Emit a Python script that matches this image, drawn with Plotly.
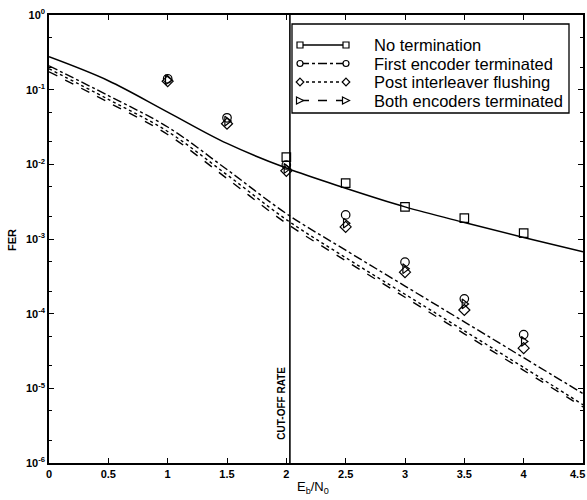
import numpy as np
import plotly.graph_objects as go

# Curve abscissae (Eb/N0, dB)
x_curve = [0, 0.5, 1, 1.5, 2, 2.5, 3, 3.5, 4, 4.5]
# Bound curves, log10(FER)
log_no_term = [-0.56, -0.88, -1.30, -1.72, -2.05, -2.32, -2.57, -2.78, -2.98, -3.17]
log_first_enc = [-0.68, -1.08, -1.50, -2.07, -2.66, -3.15, -3.63, -4.11, -4.59, -5.07]
log_post_int = [-0.72, -1.13, -1.56, -2.14, -2.74, -3.25, -3.74, -4.23, -4.72, -5.22]
log_both_enc = [-0.76, -1.17, -1.60, -2.19, -2.79, -3.29, -3.78, -4.27, -4.76, -5.25]

# Simulation points
x_sim_sq = [2, 2.5, 3, 3.5, 4]
fer_sim_no_term = [0.0125, 0.0056, 0.0027, 0.0019, 0.0012]
x_sim = [1, 1.5, 2, 2.5, 3, 3.5, 4]
fer_sim_first = [0.14, 0.042, 0.0098, 0.0021, 0.00049, 0.000158, 0.0000525]
fer_sim_post = [0.13, 0.035, 0.0082, 0.00145, 0.00036, 0.000112, 0.0000345]
fer_sim_both = [0.135, 0.038, 0.0088, 0.00163, 0.0004, 0.000135, 0.0000425]

cutoff_x = 2.03
y_range_log = [-6, 0]
x_ticks = [0, 0.5, 1, 1.5, 2, 2.5, 3, 3.5, 4, 4.5]

names = ["No termination", "First encoder terminated",
         "Post interleaver flushing", "Both encoders terminated"]
dashes = ["solid", "dashdot", "dot", "dash"]
symbols = ["square-open", "circle-open", "diamond-open", "triangle-right-open"]
curves = [log_no_term, log_first_enc, log_post_int, log_both_enc]
sims = [(x_sim_sq, fer_sim_no_term), (x_sim, fer_sim_first),
        (x_sim, fer_sim_post), (x_sim, fer_sim_both)]

# Plot-area geometry (pixels) used to place the hand-drawn legend
W, H = 587, 500
ML, MR, MT, MB = 49, 4, 15, 37
PW, PH = W - ML - MR, H - MT - MB


def px(x):
    return (x - ML) / PW


def py(y):
    return (H - MB - y) / PH


fig = go.Figure()
for name, dash, sym, cv, (sx, sy) in zip(names, dashes, symbols, curves, sims):
    fig.add_trace(go.Scatter(
        x=x_curve, y=[10 ** v for v in cv], mode="lines", name=name,
        line=dict(color="black", width=1.5 if dash == "solid" else 1.4, dash=dash, shape="spline"),
        showlegend=False, hoverinfo="skip"))
    fig.add_trace(go.Scatter(
        x=sx, y=sy, mode="markers", name=name,
        marker=dict(symbol=sym, size=8.5, color="black", line=dict(width=1.2)),
        showlegend=False))

# Cut-off rate line
fig.add_trace(go.Scatter(
    x=[cutoff_x, cutoff_x], y=[10 ** y_range_log[0], 10 ** y_range_log[1]],
    mode="lines", line=dict(color="black", width=1.6), showlegend=False, hoverinfo="skip"))

fig.add_annotation(x=cutoff_x, xref="x", xanchor="right", xshift=-1,
                   y=-5.2, yref="y", yanchor="middle",
                   text="CUT-OFF RATE", textangle=-90, showarrow=False,
                   font=dict(family="Liberation Sans", size=10, color="black", weight="bold"))

# ---- legend (drawn as a boxed key, MATLAB style) ----
shapes = []
shapes.append(dict(type="rect", xref="paper", yref="paper",
                   x0=px(292), x1=px(569), y0=py(113), y1=py(24),
                   line=dict(color="black", width=1.3), fillcolor="white", layer="above"))
row_y = [45, 63.5, 82, 100.5]
xa, xb = 300, 346
ms = 3.0


def marker_path(kind, cx, cy):
    if kind == "square-open":
        return "M%f,%f L%f,%f L%f,%f L%f,%f Z" % (
            px(cx - ms), py(cy - ms), px(cx + ms), py(cy - ms),
            px(cx + ms), py(cy + ms), px(cx - ms), py(cy + ms))
    if kind == "diamond-open":
        r = ms + 0.8
        return "M%f,%f L%f,%f L%f,%f L%f,%f Z" % (
            px(cx), py(cy - r), px(cx + r), py(cy), px(cx), py(cy + r), px(cx - r), py(cy))
    if kind == "triangle-right-open":
        r = ms + 0.5
        return "M%f,%f L%f,%f L%f,%f Z" % (
            px(cx - r), py(cy - r), px(cx + r), py(cy), px(cx - r), py(cy + r))
    return None


for name, dash, sym, ry in zip(names, dashes, symbols, row_y):
    shapes.append(dict(type="line", xref="paper", yref="paper",
                       x0=px(xa), x1=px(xb), y0=py(ry), y1=py(ry),
                       line=dict(color="black", width=1.3, dash=dash), layer="above"))
    for cx in (xa, xb):
        if sym == "circle-open":
            shapes.append(dict(type="circle", xref="paper", yref="paper",
                               x0=px(cx - ms), x1=px(cx + ms), y0=py(ry + ms), y1=py(ry - ms),
                               line=dict(color="black", width=1.2), fillcolor="white", layer="above"))
        else:
            shapes.append(dict(type="path", xref="paper", yref="paper",
                               path=marker_path(sym, cx, ry),
                               line=dict(color="black", width=1.2), fillcolor="white", layer="above"))
    fig.add_annotation(x=px(372), y=py(ry), xref="paper", yref="paper",
                       xanchor="left", yanchor="middle", text=name, showarrow=False,
                       font=dict(family="Liberation Sans", size=16.5, color="black"))

fig.update_layout(shapes=shapes)

tick_font = dict(family="Liberation Sans", size=11, color="black", weight="bold")

fig.update_xaxes(
    range=[0, 4.5], tickvals=x_ticks, ticktext=[("%g" % v) for v in x_ticks],
    ticks="inside", ticklen=5, tickcolor="black", showline=True, linecolor="black",
    linewidth=1.5, mirror="ticks", showgrid=False, zeroline=False, tickfont=tick_font,
    automargin=False)

# last x tick label sits at the right page edge (plotly drops it), so add it as text
fig.add_annotation(x=1, xref="paper", xanchor="right", xshift=4,
                   y=0, yref="paper", yanchor="top", yshift=-3,
                   text="%g" % x_ticks[-1], showarrow=False, font=tick_font)

yvals = [10 ** k for k in range(-6, 1)]
ytext = ["10<sup>%d</sup>" % k for k in range(-6, 1)]
fig.update_yaxes(
    type="log", range=y_range_log, tickvals=yvals, ticktext=ytext,
    ticks="inside", ticklen=5, tickcolor="black", showline=True, linecolor="black",
    linewidth=1.5, mirror="ticks", showgrid=False, zeroline=False, tickfont=tick_font,
    minor=dict(ticks="inside", ticklen=3, tickcolor="black", showgrid=False),
    automargin=False)

# Axis titles
fig.add_annotation(x=px(313), y=py(487), xref="paper", yref="paper",
                   xanchor="center", yanchor="middle", showarrow=False,
                   text="E<sub>b</sub>/N<sub>0</sub>",
                   font=dict(family="Liberation Sans", size=13, color="black"))
fig.add_annotation(x=px(12), y=py(240), xref="paper", yref="paper",
                   xanchor="center", yanchor="middle", showarrow=False, textangle=-90,
                   text="FER",
                   font=dict(family="Liberation Sans", size=11, color="black", weight="bold"))

fig.update_layout(
    width=W, height=H,
    margin=dict(l=ML, r=MR, t=MT, b=MB),
    paper_bgcolor="white", plot_bgcolor="white",
    font=dict(family="Liberation Sans", color="black"),
    showlegend=False,
)

fig.write_html("out.html", config={"displayModeBar": False},
               post_script="document.body.style.margin='0';document.body.style.overflow='hidden';")
